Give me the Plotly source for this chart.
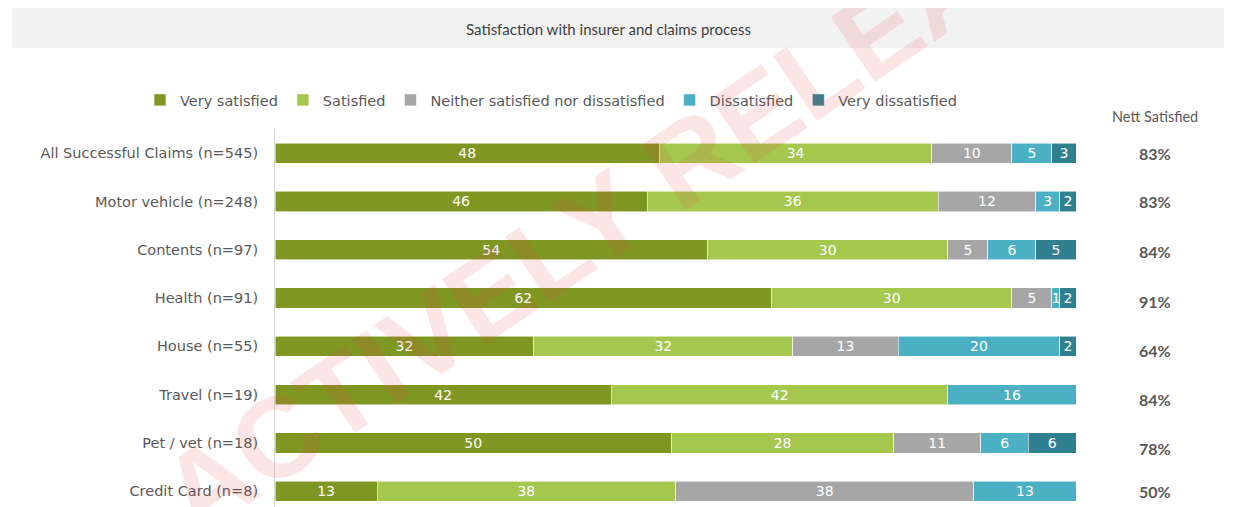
import plotly.graph_objects as go

categories = ["All Successful Claims (n=545)", "Motor vehicle (n=248)", "Contents (n=97)",
              "Health (n=91)", "House (n=55)", "Travel (n=19)", "Pet / vet (n=18)", "Credit Card (n=8)"]
series_names = ["Very satisfied", "Satisfied", "Neither satisfied nor dissatisfied",
                "Dissatisfied", "Very dissatisfied"]
very_satisfied = [48, 46, 54, 62, 32, 42, 50, 13]
satisfied = [34, 36, 30, 30, 32, 42, 28, 38]
neither = [10, 12, 5, 5, 13, None, 11, 38]
dissatisfied = [5, 3, 6, 1, 20, 16, 6, 13]
very_dissatisfied = [3, 2, 5, 2, 2, None, 6, None]
nett_satisfied = ["83%", "83%", "84%", "91%", "64%", "84%", "78%", "50%"]

colors = ["#7F9622", "#A5C74E", "#A6A6A6", "#4BB0C3", "#31808F"]
series = [very_satisfied, satisfied, neither, dissatisfied, very_dissatisfied]

# page shows figure offset by 8px (body margin); work in reference pixels
OFF = 8
W, H = 1234, 507
L, R, T, B = 275 - OFF, 1234 - (1076 - OFF), 129 - OFF, 0
pw, ph = W - L - R, H - T - B

def px_x(p):
    return (p - OFF - L) / pw

def px_y(p):
    return (H - B - (p - OFF)) / ph

row_h = 48.3
y_bottom = -0.5 + ph / row_h

fig = go.Figure()
for name, vals, col in zip(series_names, series, colors):
    fig.add_trace(go.Bar(
        y=categories, x=vals, name=name, orientation="h",
        marker=dict(color=col, line=dict(color="rgba(255,255,255,0.7)", width=0.8)),
        text=[("" if v is None else str(v)) for v in vals],
        textposition="inside", insidetextanchor="middle", textangle=0,
        textfont=dict(color="white", size=14, family="DejaVu Sans"),
        hoverinfo="skip",
    ))

fig.update_layout(
    width=W, height=H,
    margin=dict(l=L, r=R, t=T, b=B, pad=0),
    barmode="stack", barnorm="percent", bargap=0.58,
    plot_bgcolor="white", paper_bgcolor="white",
    uniformtext=dict(minsize=14, mode="show"),
    font=dict(family="DejaVu Sans", color="#595959"),
    showlegend=True,
    legend=dict(orientation="h", x=px_x(140), xanchor="left", y=px_y(100), yanchor="middle",
                font=dict(size=14.5, color="#595959", family="DejaVu Sans"),
                traceorder="normal", itemwidth=30, bgcolor="rgba(0,0,0,0)"),
    xaxis=dict(range=[0, 100], visible=False, fixedrange=True),
    yaxis=dict(type="category", categoryorder="array", categoryarray=categories,
               range=[y_bottom, -0.5], showline=True, linecolor="#D9D9D9", linewidth=1,
               showgrid=False, ticks="", ticklabelstandoff=13,
               tickfont=dict(size=14.5, color="#595959", family="DejaVu Sans")),
)

# title box
fig.add_shape(type="rect", xref="paper", yref="paper",
              x0=px_x(12), x1=px_x(1224), y0=px_y(48), y1=px_y(8),
              fillcolor="#F2F2F2", line=dict(width=0), layer="below")
fig.add_annotation(xref="paper", yref="paper", x=px_x(608), y=px_y(29),
                   text="Satisfaction with insurer and claims process", showarrow=False,
                   font=dict(size=15, color="#404040", family="Lato"), xanchor="center", yanchor="middle")

# Nett satisfied column
fig.add_annotation(xref="paper", yref="paper", x=px_x(1155), y=px_y(117),
                   text="Nett Satisfied", showarrow=False,
                   font=dict(size=14.5, color="#595959", family="Lato"), xanchor="center", yanchor="middle")
shifts = [0, 0, -2, -3, -4, -5, -6, 0]
for cat, val, s in zip(categories, nett_satisfied, shifts):
    fig.add_annotation(xref="paper", yref="y", x=px_x(1155), y=cat, yshift=s,
                       text="<b>" + val + "</b>", showarrow=False,
                       font=dict(size=16, color="#595959", family="Lato"),
                       xanchor="center", yanchor="middle")

# watermark
fig.add_annotation(xref="paper", yref="paper", x=px_x(673), y=px_y(170),
                   text="<b>ACTIVELY RELEASED</b>", showarrow=False, textangle=-34,
                   font=dict(size=114, color="rgba(225,70,70,0.14)", family="Liberation Sans"),
                   xanchor="center", yanchor="middle")

fig.write_html("out.html")
